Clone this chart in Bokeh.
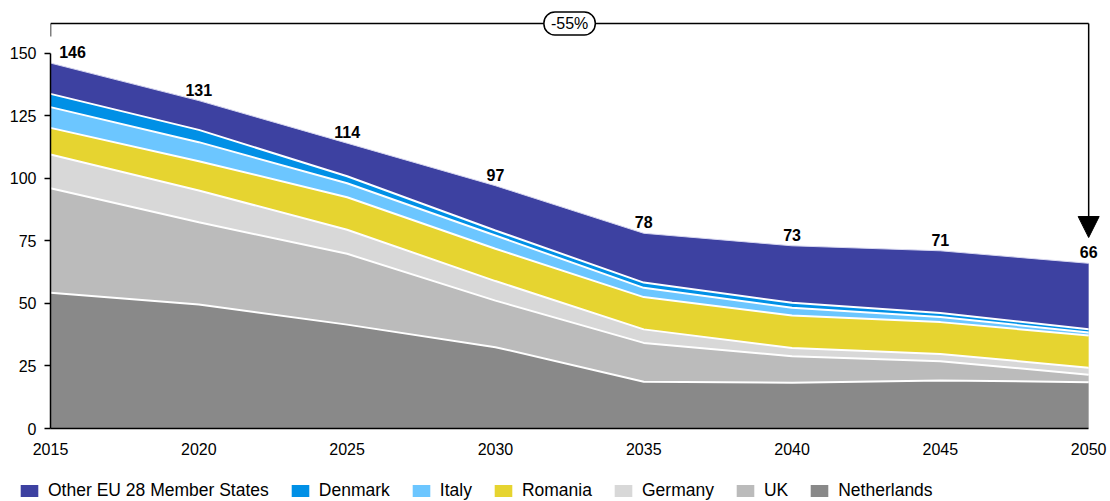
from bokeh.plotting import figure
from bokeh.layouts import column
from bokeh.models import (ColumnDataSource, FixedTicker, Legend, LegendItem,
                          Label, Arrow, NormalHead, Range1d)
from bokeh.core.properties import value
from bokeh.embed import file_html
from bokeh.resources import INLINE

# Emissions by member state, stacked from the bottom up
years = [2015, 2020, 2025, 2030, 2035, 2040, 2045, 2050]
netherlands = [54.2, 49.5, 41.5, 32.5, 18.7, 18.3, 19.2, 18.5]
uk = [41.8, 32.9, 28.3, 18.6, 15.5, 10.6, 7.7, 3.0]
germany = [13.5, 12.7, 9.6, 7.8, 5.4, 3.3, 2.9, 2.8]
romania = [10.6, 11.7, 13.0, 12.9, 12.9, 12.9, 12.7, 12.9]
italy = [8.3, 7.6, 5.6, 5.3, 3.7, 3.1, 2.0, 1.2]
denmark = [5.3, 4.9, 2.8, 2.0, 2.1, 2.0, 1.6, 1.3]
other_eu = [12.3, 11.7, 13.2, 17.9, 19.7, 22.8, 24.9, 26.3]

series_names = ["Netherlands", "UK", "Germany", "Romania", "Italy",
                "Denmark", "Other EU 28 Member States"]
series_keys = ["nl", "uk", "de", "ro", "it", "dk", "other"]
series_colors = ["#898989", "#bbbbbb", "#d8d8d8", "#e6d430", "#6cc6ff",
                 "#0090e6", "#3d41a1"]
y_ticks = [0, 25, 50, 75, 100, 125, 150]

FONT = "Liberation Sans"

data = dict(year=years, nl=netherlands, uk=uk, de=germany, ro=romania,
            it=italy, dk=denmark, other=other_eu)
source = ColumnDataSource(data)

# cumulative boundaries for the white separator lines and totals
cum = []
run = [0.0] * len(years)
for key in series_keys:
    run = [a + b for a, b in zip(run, data[key])]
    cum.append(run)
totals = [round(v) for v in cum[-1]]

Y_TOP = 167.0
p = figure(width=1110, height=460, output_backend="svg", toolbar_location=None,
           x_range=Range1d(2015, 2050.5), y_range=Range1d(0, Y_TOP),
           min_border_left=50, min_border_right=7, min_border_top=10,
           min_border_bottom=32, frame_align=False)
p.outline_line_color = None
p.background_fill_color = "white"
p.border_fill_color = "white"
p.xgrid.visible = False
p.ygrid.visible = False

areas = p.varea_stack(stackers=series_keys, x="year", color=series_colors,
                      source=source)

for boundary in cum[:-1]:
    p.line(years, boundary, line_color="white", line_width=2)
p.line(years, cum[-1], line_color="#d8d8f0", line_width=1)

# total labels
label_src = ColumnDataSource(dict(
    x=years, y=cum[-1], text=[str(t) for t in totals],
    dx=[22, 0, 0, 0, 0, 0, 0, 0]))
p.text(x="x", y="y", text="text", x_offset="dx", y_offset=-11,
       source=label_src, text_align="center", text_baseline="middle",
       text_font=value(FONT), text_font_size="16px", text_font_style="bold",
       text_color="black")

# axes
p.xaxis.ticker = FixedTicker(ticks=years)
p.xaxis.bounds = (2015, 2050)
p.xaxis.major_tick_out = 0
p.xaxis.major_tick_in = 0
p.xaxis.minor_tick_out = 0
p.xaxis.minor_tick_in = 0
p.xaxis.major_label_standoff = 14
p.yaxis.ticker = FixedTicker(ticks=y_ticks)
p.yaxis.bounds = (0, 150)
p.yaxis.major_tick_out = 6
p.yaxis.major_tick_in = 0
p.yaxis.minor_tick_out = 0
p.yaxis.minor_tick_in = 0
p.yaxis.major_label_standoff = 8
for ax in (p.xaxis, p.yaxis):
    ax.axis_line_color = "black"
    ax.axis_line_width = 1.5
    ax.major_tick_line_color = "black"
    ax.major_tick_line_width = 1.5
    ax.major_label_text_font = FONT
    ax.major_label_text_font_size = "16px"
    ax.major_label_text_color = "black"

# overall change bracket
change = round((totals[-1] - totals[0]) / totals[0] * 100)
BR_Y = 161.8
p.add_layout(Arrow(x_start=2015, y_start=BR_Y, x_end=2050, y_end=BR_Y,
                   end=None, line_color="black", line_width=1.5))
p.add_layout(Arrow(x_start=2015, y_start=BR_Y, x_end=2015, y_end=156.6,
                   end=None, line_color="black", line_width=1.5))
p.add_layout(Arrow(x_start=2050, y_start=BR_Y, x_end=2050, y_end=76.3,
                   line_color="black", line_width=1.5,
                   end=NormalHead(size=21, fill_color="black",
                                  line_color="black")))
p.add_layout(Label(x=2032.5, y=BR_Y, text=f"{change}%", text_align="center",
                   text_baseline="middle", text_font=FONT,
                   text_font_size="16px", text_color="black",
                   background_fill_color="white", border_line_color="black",
                   border_line_width=1.5, border_radius=11,
                   padding=dict(left=7, right=7, top=3, bottom=3)))

# legend strip, listed top of the stack first
lg = figure(width=1110, height=41, output_backend="svg", toolbar_location=None,
            x_axis_type=None, y_axis_type=None,
            x_range=Range1d(0, 1), y_range=Range1d(0, 1),
            min_border_left=0, min_border_right=0, min_border_top=0,
            min_border_bottom=0, frame_align=False)
lg.outline_line_color = None
lg.xgrid.visible = False
lg.ygrid.visible = False
swatches = [lg.varea(x=[0, 0], y1=[0, 0], y2=[0, 0], color=c)
            for c in series_colors]
items = [LegendItem(label=series_names[i], renderers=[swatches[i]])
         for i in reversed(range(len(series_keys)))]
legend = Legend(items=items, orientation="horizontal", location=(18, 0),
                glyph_width=22, glyph_height=15, label_standoff=8, spacing=20,
                padding=0, margin=0, border_line_color=None,
                background_fill_alpha=0,
                label_text_font=FONT, label_text_font_size="17.5px",
                label_text_color="black")
lg.add_layout(legend)

open("out.html", "w").write(file_html(column(p, lg, spacing=0), INLINE))
